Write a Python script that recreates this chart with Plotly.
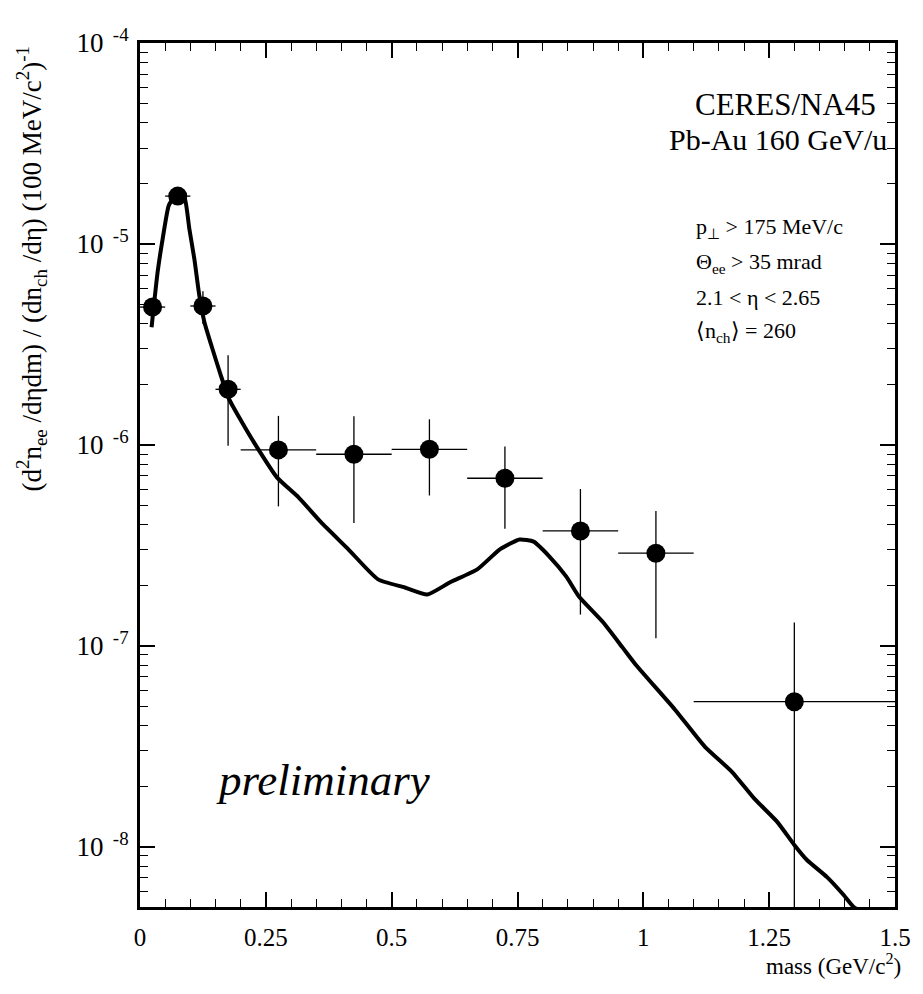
import plotly.graph_objects as go

# ---- data points (CERES/NA45 Pb-Au 160 GeV/u) ----
mass_centers = [0.025, 0.075, 0.125, 0.175, 0.275, 0.425, 0.575, 0.725, 0.875, 1.025, 1.3]
mass_halfwidth = [0.025, 0.025, 0.025, 0.025, 0.075, 0.075, 0.075, 0.075, 0.075, 0.075, 0.2]
yields = [4.85e-6, 1.73e-5, 4.91e-6, 1.89e-6, 9.44e-7, 8.98e-7, 9.50e-7, 6.82e-7, 3.73e-7, 2.89e-7, 5.27e-8]
yield_err = [0.4e-6, 0.8e-6, 0.9e-6, 0.9e-6, 4.5e-7, 4.9e-7, 3.9e-7, 3.0e-7, 2.3e-7, 1.8e-7, 7.8e-8]

# ---- hadronic cocktail curve ----
curve_mass = [0.023, 0.035, 0.045, 0.057, 0.069, 0.079, 0.089, 0.098, 0.108, 0.118, 0.128,
              0.144, 0.161, 0.177, 0.200, 0.232, 0.272, 0.315, 0.360, 0.414, 0.473, 0.526,
              0.571, 0.616, 0.670, 0.715, 0.754, 0.782, 0.813, 0.847, 0.872, 0.920, 0.959,
              0.985, 1.063, 1.122, 1.176, 1.221, 1.266, 1.300, 1.325, 1.365, 1.398, 1.418, 1.44]
curve_yield = [3.85e-6, 7.24e-6, 1.06e-5, 1.55e-5, 1.73e-5, 1.77e-5, 1.68e-5, 1.19e-5, 8.41e-6,
               5.51e-6, 4.08e-6, 3.00e-6, 2.20e-6, 1.69e-6, 1.33e-6, 9.77e-7, 6.89e-7, 5.48e-7,
               4.11e-7, 3.02e-7, 2.14e-7, 1.95e-7, 1.80e-7, 2.07e-7, 2.40e-7, 3.02e-7, 3.38e-7,
               3.30e-7, 2.79e-7, 2.21e-7, 1.76e-7, 1.31e-7, 9.79e-8, 8.05e-8, 4.81e-8, 3.15e-8,
               2.36e-8, 1.73e-8, 1.33e-8, 1.02e-8, 8.59e-9, 7.06e-9, 5.75e-9, 5.01e-9, 4.68e-9]

# ---- axis ticks ----
x_tickvals = [0, 0.25, 0.5, 0.75, 1, 1.25, 1.5]
x_ticktext = ["0", "0.25", "0.5", "0.75", "1", "1.25", "1.5"]
y_exponents = [-8, -7, -6, -5, -4]
y_tickvals = [10.0 ** e for e in y_exponents]
y_ticktext = ["10<sup>\u00a0\u00a0%d</sup>" % e for e in y_exponents]
y_minor = [k * 10.0 ** e for e in range(-9, -4) for k in range(2, 10)]

FONT = "Liberation Serif, Times New Roman, serif"

fig = go.Figure()

fig.add_trace(go.Scatter(
    x=curve_mass, y=curve_yield, mode="lines",
    line=dict(color="black", width=4, shape="spline", smoothing=0.5),
    hoverinfo="skip", showlegend=False,
))

fig.add_trace(go.Scatter(
    x=mass_centers, y=yields, mode="markers",
    marker=dict(color="black", size=19, symbol="circle"),
    error_x=dict(type="data", array=mass_halfwidth, color="black", thickness=1.3, width=0),
    error_y=dict(type="data", array=yield_err, color="black", thickness=1.3, width=0),
    showlegend=False,
))

axis_common = dict(
    showline=True, linecolor="black", linewidth=3, mirror="allticks",
    ticks="inside", ticklen=15, tickwidth=1.5, tickcolor="black",
    showgrid=False, zeroline=False,
)

fig.update_xaxes(
    range=[0, 1.5], tickmode="array", tickvals=x_tickvals, ticktext=x_ticktext,
    tickfont=dict(family=FONT, size=25, color="black"), ticklabelstandoff=6,
    minor=dict(ticks="inside", ticklen=8, tickwidth=1.2, tickcolor="black", dtick=0.05, tick0=0),
    **axis_common,
)
fig.update_yaxes(
    type="log", range=[-8.3, -4], tickmode="array", tickvals=y_tickvals, ticktext=y_ticktext,
    tickfont=dict(family=FONT, size=27, color="black"), ticklabelstandoff=3,
    minor=dict(ticks="inside", ticklen=8, tickwidth=1.2, tickcolor="black",
               tickmode="array", tickvals=y_minor),
    **axis_common,
)


def px_x(X):
    return (X - 140) / 762


def px_y(Y):
    return (907 - Y) / 864


annotations = [
    dict(text="CERES/NA45", x=px_x(698), y=px_y(104), xanchor="left", yanchor="middle",
         font=dict(size=31)),
    dict(text="Pb-Au 160 GeV/u", x=px_x(672), y=px_y(140), xanchor="left", yanchor="middle",
         font=dict(size=30)),
    dict(text="p<sub>⊥</sub> > 175 MeV/c", x=px_x(699), y=px_y(228), xanchor="left",
         yanchor="middle", font=dict(size=22)),
    dict(text="Θ<sub>ee</sub> > 35 mrad", x=px_x(699), y=px_y(263), xanchor="left",
         yanchor="middle", font=dict(size=22)),
    dict(text="2.1 < η < 2.65", x=px_x(699), y=px_y(297), xanchor="left",
         yanchor="middle", font=dict(size=22)),
    dict(text="⟨n<sub>ch</sub>⟩ = 260", x=px_x(699), y=px_y(332), xanchor="left",
         yanchor="middle", font=dict(size=22)),
    dict(text="<i>preliminary</i>", x=px_x(215), y=px_y(780), xanchor="left",
         yanchor="middle", font=dict(size=45)),
    dict(text="mass (GeV/c<sup>2</sup>)", x=px_x(910), y=px_y(965), xanchor="right", yanchor="middle",
         font=dict(size=23)),
    dict(text="(d<sup>2</sup>n<sub>ee</sub> /dηdm) / (dn<sub>ch</sub> /dη) (100 MeV/c<sup>2</sup>)<sup>-1</sup>",
         x=px_x(31), y=px_y(45), xanchor="center", yanchor="top", textangle=-90,
         font=dict(size=27)),
]
for a in annotations:
    a.update(xref="paper", yref="paper", showarrow=False)
    a["font"].update(family=FONT, color="black")

fig.update_layout(
    width=923, height=994,
    margin=dict(l=140, r=21, t=43, b=87),
    paper_bgcolor="white", plot_bgcolor="white",
    font=dict(family=FONT, color="black"),
    annotations=annotations,
)

fig.write_html("out.html")
